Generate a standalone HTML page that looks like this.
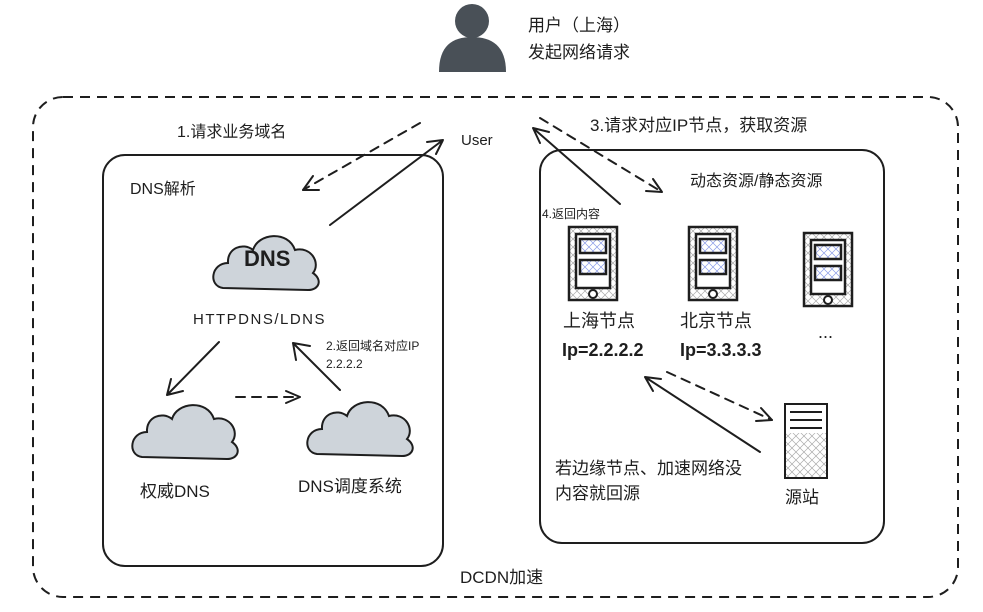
<!DOCTYPE html>
<html><head><meta charset="utf-8"><style>
body{margin:0;background:#fff;}
svg{display:block}
text{font-family:"Liberation Sans","Noto Sans CJK SC",sans-serif;fill:#1e1e1e}
</style></head><body>
<svg width="983" height="612" viewBox="0 0 983 612" xmlns="http://www.w3.org/2000/svg">
<defs>
<pattern id="h" width="8" height="8" patternUnits="userSpaceOnUse"><path d="M0 0L8 8M8 0L0 8" stroke="#aaa" stroke-width="0.7"/></pattern>
<pattern id="hb" width="8" height="8" patternUnits="userSpaceOnUse"><path d="M0 0L8 8M8 0L0 8" stroke="#8a9be8" stroke-width="0.7"/></pattern>
<g id="cloud"><path d="M10 60 C-5 58 -2 35 15 35 C14 20 30 14 40 22 C45 5 75 2 82 22 C98 18 108 35 100 45 C110 52 106 62 95 62 Z" fill="#ced4da" stroke="#1e1e1e" stroke-width="2"/></g>
<g id="phone"><rect x="0" y="0" width="48" height="73" fill="url(#h)" stroke="#1e1e1e" stroke-width="2.5"/>
<rect x="7" y="7" width="34" height="54" fill="#fff" stroke="#1e1e1e" stroke-width="2.5"/>
<rect x="11" y="12" width="26" height="14" fill="url(#hb)" stroke="#1e1e1e" stroke-width="2.5"/>
<rect x="11" y="33" width="26" height="14" fill="url(#hb)" stroke="#1e1e1e" stroke-width="2.5"/>
<circle cx="24" cy="67" r="4" fill="#fff" stroke="#1e1e1e" stroke-width="2"/></g>
</defs>
<rect x="33" y="97" width="925" height="500" rx="30" fill="none" stroke="#1e1e1e" stroke-width="2" stroke-dasharray="10 7"/>
<rect x="103" y="155" width="340" height="411" rx="22" fill="none" stroke="#1e1e1e" stroke-width="2"/>
<rect x="540" y="150" width="344" height="393" rx="22" fill="none" stroke="#1e1e1e" stroke-width="2"/>
<circle cx="472" cy="21" r="17" fill="#495057"/>
<path d="M439 72 C439 46 452 37 472 37 C492 37 506 46 506 72 Z" fill="#495057"/>
<text x="528" y="31" font-size="17">用户（上海）</text>
<text x="528" y="58" font-size="17">发起网络请求</text>
<text x="461" y="145" font-size="15">User</text>
<text x="177" y="137" font-size="16">1.请求业务域名</text>
<text x="590" y="131" font-size="17">3.请求对应IP节点，获取资源</text>
<text x="130" y="194" font-size="16">DNS解析</text>
<text x="690" y="186" font-size="16">动态资源/静态资源</text>
<text x="542" y="218" font-size="12">4.返回内容</text>
<use href="#cloud" x="213" y="228"/>
<text x="244" y="266" font-size="22" font-weight="bold" font-family="Liberation Sans">DNS</text>
<text x="193" y="324" font-size="15" letter-spacing="1.5">HTTPDNS/LDNS</text>
<text x="326" y="350" font-size="12">2.返回域名对应IP</text>
<text x="326" y="368" font-size="12">2.2.2.2</text>
<use href="#cloud" x="132" y="397"/>
<use href="#cloud" x="307" y="394"/>
<text x="140" y="497" font-size="17">权威DNS</text>
<text x="298" y="492" font-size="17">DNS调度系统</text>
<use href="#phone" x="569" y="227"/>
<use href="#phone" x="689" y="227"/>
<use href="#phone" x="804" y="233"/>
<text x="563" y="327" font-size="18">上海节点</text>
<text x="680" y="327" font-size="18">北京节点</text>
<text x="818" y="338" font-size="18">...</text>
<text x="562" y="356" font-size="18" font-weight="bold">Ip=2.2.2.2</text>
<text x="680" y="356" font-size="18" font-weight="bold">Ip=3.3.3.3</text>
<rect x="785" y="404" width="42" height="74" fill="url(#h)" stroke="#1e1e1e" stroke-width="2"/>
<rect x="786" y="405" width="40" height="28" fill="#fff"/>
<path d="M790 412h32M790 420h32M790 428h32" stroke="#1e1e1e" stroke-width="2"/>
<text x="785" y="503" font-size="17">源站</text>
<text x="555" y="474" font-size="17">若边缘节点、加速网络没</text>
<text x="555" y="499" font-size="17">内容就回源</text>
<text x="460" y="583" font-size="17">DCDN加速</text>
<g stroke="#1e1e1e" stroke-width="2" fill="none" stroke-linecap="round">
<path d="M330 225L443 140M443 140l-16 2M443 140l-7 14"/>
<path d="M420 123L303 190" stroke-dasharray="9 7"/><path d="M303 190l10-14M303 190l16 0"/>
<path d="M620 204L533 128M533 128l7 15M533 128l16 4"/>
<path d="M540 118L662 192" stroke-dasharray="9 7"/><path d="M662 192l-9-13M662 192l-16 -1"/>
<path d="M760 452L645 377M645 377l8 14M645 377l16 2"/>
<path d="M667 372L772 420" stroke-dasharray="9 7"/><path d="M772 420l-11-12M772 420l-16 1"/>
<path d="M219 342L167 395M167 395l4-16M167 395l16-4"/>
<path d="M236 397L300 397" stroke-dasharray="9 7"/><path d="M300 397l-14-6M300 397l-14 6"/>
<path d="M340 390L293 343M293 343l3 17M293 343l17 3"/>
</g>
</svg>
</body></html>
